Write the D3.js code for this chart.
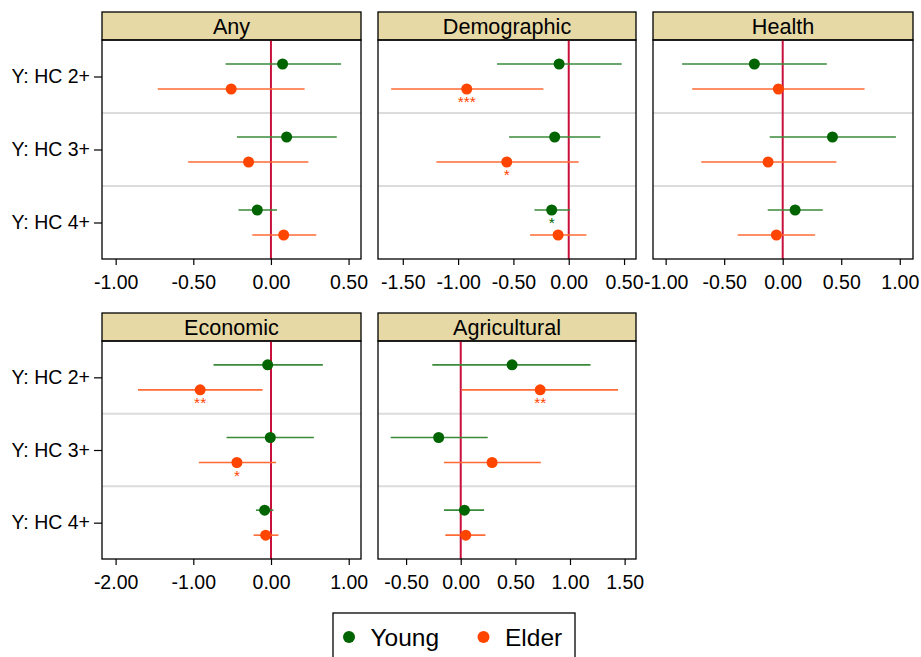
<!DOCTYPE html>
<html><head><meta charset="utf-8">
<script src="https://cdn.jsdelivr.net/npm/d3@7"></script>
<style>body{margin:0;background:#fff;}svg{display:block;font-family:"Liberation Sans",Arial,sans-serif;}</style>
</head><body><svg id="c" width="921" height="657"></svg>
<script>
const panels = ["Any", "Demographic", "Health", "Economic", "Agricultural"];
const rows = ["Y: HC 2+", "Y: HC 3+", "Y: HC 4+"];
const series = ["Young", "Elder"];

const youngEst = [[0.075, 0.101, -0.088], [-0.087, -0.127, -0.154], [-0.242, 0.425, 0.106], [-0.043, -0.009, -0.082], [0.470, -0.202, 0.034]];
const youngLo  = [[-0.292, -0.219, -0.209], [-0.648, -0.539, -0.310], [-0.859, -0.111, -0.128], [-0.740, -0.572, -0.194], [-0.260, -0.641, -0.153]];
const youngHi  = [[0.452, 0.424, 0.039], [0.479, 0.286, 0.012], [0.377, 0.967, 0.342], [0.667, 0.551, 0.030], [1.188, 0.247, 0.214]];
const elderEst = [[-0.256, -0.144, 0.082], [-0.922, -0.560, -0.096], [-0.037, -0.125, -0.054], [-0.912, -0.439, -0.069], [0.727, 0.287, 0.046]];
const elderLo  = [[-0.729, -0.533, -0.120], [-1.605, -1.196, -0.349], [-0.773, -0.696, -0.385], [-1.712, -0.929, -0.224], [0.009, -0.153, -0.141]];
const elderHi  = [[0.217, 0.241, 0.292], [-0.229, 0.090, 0.160], [0.699, 0.459, 0.277], [-0.108, 0.065, 0.095], [1.439, 0.733, 0.226]];
const youngStars = [["", "", ""], ["", "", "*"], ["", "", ""], ["", "", ""], ["", "", ""]];
const elderStars = [["", "", ""], ["***", "*", ""], ["", "", ""], ["**", "*", ""], ["**", "", ""]];

const tickValues = [
  [-1, -0.5, 0, 0.5],
  [-1.5, -1, -0.5, 0, 0.5],
  [-1, -0.5, 0, 0.5, 1],
  [-2, -1, 0, 1],
  [-0.5, 0, 0.5, 1, 1.5]
];

// layout
const domains = [[-1.088, 0.58], [-1.724, 0.608], [-1.108, 1.113], [-2.175, 1.158], [-0.757, 1.604]];
const colX = [[102, 361], [378, 636], [653, 913]];
const rowY = [{h0: 12, top: 40, bottom: 259}, {h0: 313, top: 341, bottom: 559}];
const colors = {Young: "#006400", Elder: "#FF4500"};
const lineColors = {Young: "#3a8a3a", Elder: "#FF6a35"};

const loc = d3.formatLocale({decimal: ".", thousands: ",", grouping: [3], currency: ["", ""], minus: "-"});
const fmt = loc.format(".2f");

const svg = d3.select("#c");

panels.forEach((name, p) => {
  const col = p < 3 ? p : p - 3;
  const r = p < 3 ? 0 : 1;
  const [x0, x1] = colX[col];
  const {h0, top, bottom} = rowY[r];
  const g = svg.append("g");
  const x = d3.scaleLinear().domain(domains[p]).range([x0, x1]);
  const yb = d3.scaleBand().domain(rows).range([top, bottom]);
  const off = d3.scalePoint().domain(series).range([-12.5, 12.5]);

  // header
  g.append("rect").attr("x", x0).attr("y", h0).attr("width", x1 - x0).attr("height", top - h0)
    .attr("fill", "#E6D9A5").attr("stroke", "#000").attr("stroke-width", 1.3);
  g.append("text").attr("x", (x0 + x1) / 2).attr("y", (h0 + top) / 2 + 7.7)
    .attr("text-anchor", "middle").attr("font-size", 21.6).text(name);

  // separators
  rows.slice(1).forEach(rw => {
    g.append("line").attr("x1", x0).attr("x2", x1).attr("y1", yb(rw)).attr("y2", yb(rw))
      .attr("stroke", "#dcdcdc").attr("stroke-width", 2);
  });

  // zero line
  g.append("line").attr("x1", x(0)).attr("x2", x(0)).attr("y1", top).attr("y2", bottom)
    .attr("stroke", "#C8103C").attr("stroke-width", 2);

  const data = [];
  rows.forEach((rw, i) => {
    data.push({s: "Young", row: rw, est: youngEst[p][i], lo: youngLo[p][i], hi: youngHi[p][i], star: youngStars[p][i]});
    data.push({s: "Elder", row: rw, est: elderEst[p][i], lo: elderLo[p][i], hi: elderHi[p][i], star: elderStars[p][i]});
  });
  const cy = d => yb(d.row) + yb.bandwidth() / 2 + off(d.s);

  g.selectAll("line.ci").data(data).join("line").attr("class", "ci")
    .attr("x1", d => x(d.lo)).attr("x2", d => x(d.hi)).attr("y1", cy).attr("y2", cy)
    .attr("stroke", d => lineColors[d.s]).attr("stroke-width", 1.6);
  g.selectAll("circle.pt").data(data).join("circle").attr("class", "pt")
    .attr("cx", d => x(d.est)).attr("cy", cy).attr("r", 5.5).attr("fill", d => colors[d.s]);
  g.selectAll("text.star").data(data.filter(d => d.star)).join("text").attr("class", "star")
    .attr("x", d => x(d.est)).attr("y", d => cy(d) + 18).attr("text-anchor", "middle")
    .attr("font-size", 15.5).attr("fill", d => colors[d.s]).text(d => d.star);

  // frame
  g.append("rect").attr("x", x0).attr("y", top).attr("width", x1 - x0).attr("height", bottom - top)
    .attr("fill", "none").attr("stroke", "#000").attr("stroke-width", 1.3);

  // x axis
  const ax = g.append("g").attr("transform", `translate(0,${bottom})`)
    .call(d3.axisBottom(x).tickValues(tickValues[p]).tickFormat(fmt).tickSize(6).tickPadding(10.5));
  ax.select(".domain").remove();
  ax.selectAll("line").attr("stroke", "#000").attr("stroke-width", 1.2);
  ax.selectAll("text").attr("font-size", 19.5).attr("fill", "#000").attr("font-family", "Liberation Sans, Arial, sans-serif");

  // y axis (left column)
  if (col === 0) {
    const yp = d3.scalePoint().domain(rows).range([yb(rows[0]) + yb.bandwidth() / 2, yb(rows[2]) + yb.bandwidth() / 2]);
    const ay = g.append("g").attr("transform", `translate(${x0},0)`)
      .call(d3.axisLeft(yp).tickSize(8).tickPadding(4));
    ay.select(".domain").remove();
    ay.selectAll("line").attr("stroke", "#000").attr("stroke-width", 1.2);
    ay.selectAll("text").attr("font-size", 19.5).attr("fill", "#000").attr("font-family", "Liberation Sans, Arial, sans-serif");
  }
});

// legend
const lg = svg.append("g");
lg.append("rect").attr("x", 333).attr("y", 613).attr("width", 242).attr("height", 60)
  .attr("fill", "#fff").attr("stroke", "#000").attr("stroke-width", 1.3);
const lx = d3.scalePoint().domain(series).range([349, 483.5]);
series.forEach(s => {
  lg.append("circle").attr("cx", lx(s)).attr("cy", 637).attr("r", 6).attr("fill", colors[s]);
  lg.append("text").attr("x", lx(s) + 21.5).attr("y", 645.5).attr("font-size", 24.5).attr("fill", "#000").text(s);
});
</script></body></html>
